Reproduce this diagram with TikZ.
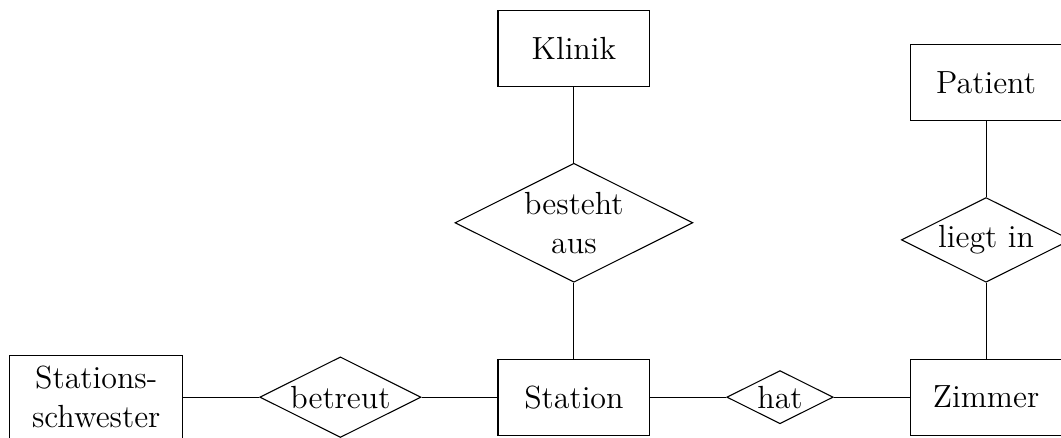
\documentclass[tikz,border=0pt,12pt]{standalone}
\usepackage{tikz}
\usetikzlibrary{positioning,shapes.geometric}

\begin{document}
\begin{tikzpicture}[
  node distance=1cm,
  entity/.style={draw, rectangle, minimum width=2cm, minimum height=1cm, align=center},
  relation/.style={draw, diamond, aspect=2, inner sep=1pt, align=center}
  ]
  \node[entity] (station) {Station};
  \node[relation, left=of station] (betreut) {betreut};
  \node[entity, left=of betreut, text width=2cm] (schwester) {Stations-\\schwester};
  \node[relation, right=of station] (hat) {hat};
  \node[entity, right=of hat] (zimmer) {Zimmer};
  \node[relation, above=of station] (besteht) {besteht\\aus};
  \node[entity, above=of besteht] (klinik) {Klinik};
  \node[relation, above=of zimmer] (liegt) {liegt in};
  \node[entity, above=of liegt] (patient) {Patient};

  \draw
  (schwester) -- (betreut)
  (betreut) -- (station)
  (station) -- (hat)
  (hat) -- (zimmer)
  (station) -- (besteht)
  (besteht) -- (klinik)
  (zimmer) -- (liegt)
  (liegt) -- (patient)
  ;

  % crop as in the original
  \coordinate (bbsw) at ([xshift=-0.12cm,yshift=-0.02cm]schwester.west |- station.south);
  \coordinate (bbn) at ([yshift=0.13cm]klinik.north);
  \pgfresetboundingbox
  \useasboundingbox (bbsw) rectangle ([xshift=-0.02cm]zimmer.east |- bbn);
\end{tikzpicture}
\end{document}
